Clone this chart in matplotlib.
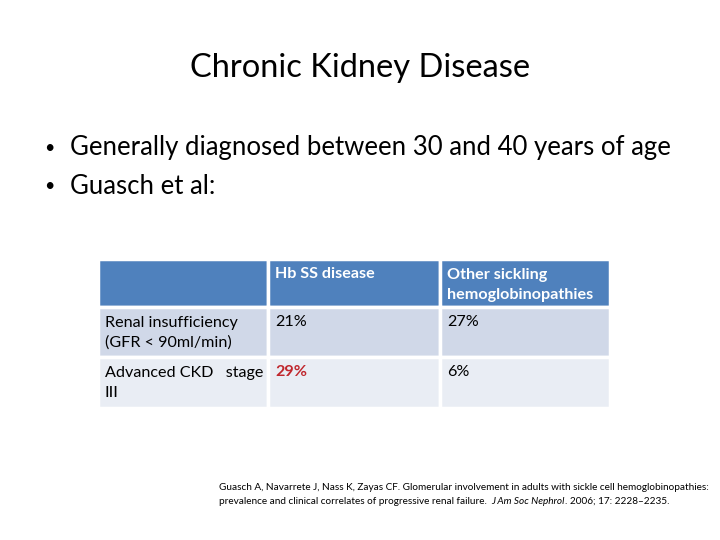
import matplotlib.pyplot as plt
from matplotlib.patches import Rectangle

plt.rcParams['font.family'] = ['Lato', 'DejaVu Sans']

title = 'Chronic Kidney Disease'
bullets = ['Generally diagnosed between 30 and 40 years of age', 'Guasch et al:']
col_headers = ['', 'Hb SS disease', 'Other sickling\nhemoglobinopathies']
row_labels = ['Renal insufficiency\n(GFR < 90ml/min)', 'Advanced CKD   stage\nIII']
hbss = ['21%', '29%']
other = ['27%', '6%']
highlight = [False, True]

col_edges = [98, 268, 440, 610]
row_edges = [259, 307, 357, 408]
row_colors = ['#4F81BD', '#D0D8E8', '#E9EDF4']

fig = plt.figure(figsize=(7.2, 5.4), dpi=100)
ax = fig.add_axes([0, 0, 1, 1])
ax.set_xlim(0, 720)
ax.set_ylim(540, 0)
ax.axis('off')

ax.text(360, 68, title, ha='center', va='center', fontsize=23.5)
for i, b in enumerate(bullets):
    y = 148 + i * 38
    ax.text(49, y, '\u2022', ha='center', va='center', fontsize=13)
    ax.text(70, y, b, ha='left', va='center', fontsize=18.5)

rows = [col_headers] + [[row_labels[i], hbss[i], other[i]] for i in range(len(row_labels))]
for r, cells in enumerate(rows):
    top, bot = row_edges[r], row_edges[r + 1]
    for c, txt in enumerate(cells):
        left, right = col_edges[c], col_edges[c + 1]
        ax.add_patch(Rectangle((left, top), right - left, bot - top,
                               facecolor=row_colors[r], edgecolor='white', lw=2.5))
        color = 'black'
        weight = 'normal'
        if r == 0:
            color = 'white'
            weight = 'bold'
        elif c == 1 and highlight[r - 1]:
            color = '#C0272D'
            weight = 'bold'
        ax.text(left + 7, top + 8.5, txt, ha='left', va='top',
                fontsize=11.6, color=color, fontweight=weight, linespacing=1.55)

# citation, second line has an italic journal name
cite1 = 'Guasch A, Navarrete J, Nass K, Zayas CF. Glomerular involvement in adults with sickle cell hemoglobinopathies:'
cite2 = ['prevalence and clinical correlates of progressive renal failure. ', 'J Am Soc Nephrol', '. 2006; 17: 2228\u20132235.']
styles = ['normal', 'italic', 'normal']
ax.text(219, 487, cite1, ha='left', va='center', fontsize=7.2)
fig.canvas.draw()
r_ = fig.canvas.get_renderer()
x = 219
for part, st in zip(cite2, styles):
    t = ax.text(x, 501, part, ha='left', va='center', fontsize=7.2, style=st)
    bb = t.get_window_extent(renderer=r_)
    x += bb.width
    if part.endswith(' '):
        x += 2

fig.savefig('out.png', dpi=100, facecolor='white')
